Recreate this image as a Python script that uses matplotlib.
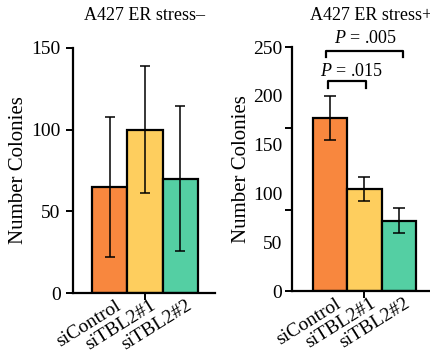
import matplotlib
matplotlib.use('Agg')
import matplotlib.pyplot as plt
import matplotlib.transforms as mtransforms

plt.rcParams['font.family'] = ['Liberation Serif', 'DejaVu Serif']
plt.rcParams['mathtext.fontset'] = 'custom'
plt.rcParams['mathtext.rm'] = 'Liberation Serif'
plt.rcParams['mathtext.it'] = 'Liberation Serif:italic'

grupos = ['siControl', 'siTBL2#1', 'siTBL2#2']
colores = ['#F8873E', '#FECE5E', '#54CFA3']

# ER stress -
media_menos = [65, 100, 70]
sd_menos = [43, 39, 44.5]

# ER stress +
media_mas = [177, 104.5, 72]
sd_mas = [22.5, 12, 13]

fig = plt.figure(figsize=(4.31, 3.55), dpi=100)
ax1 = fig.add_axes([73/431, 1-293/355, (215-73)/431, (293-48)/355])
ax2 = fig.add_axes([292/431, 1-291/355, (436-292)/431, (291-47)/355])


def dibujar(ax, medias, sds, ylim, capsize, yticks_mayores, yticks_label, xlim):
    x = range(len(grupos))
    ax.xaxis.remove_overlapping_locs = False
    ax.yaxis.remove_overlapping_locs = False
    ax.bar(x, medias, width=1.0, color=colores, edgecolor='black', linewidth=1.6, zorder=2)
    ax.errorbar(x, medias, yerr=sds, fmt='none', ecolor='black', elinewidth=1.1,
                capsize=capsize, capthick=1.1, zorder=3)
    ax.set_xlim(*xlim)
    ax.set_ylim(*ylim)
    for lado in ['top', 'right']:
        ax.spines[lado].set_visible(False)
    ax.spines['left'].set_linewidth(1.6)
    ax.spines['bottom'].set_linewidth(1.6)
    # ticks: los mayores solo marcan, los menores llevan texto
    ax.set_yticks(yticks_mayores)
    ax.set_yticklabels([''] * len(yticks_mayores))
    ax.set_yticks(yticks_label, minor=True)
    ax.set_yticklabels([str(v) for v in yticks_label], minor=True, fontsize=14)
    ax.tick_params(axis='y', which='major', length=5, width=1.4, direction='out')
    ax.tick_params(axis='y', which='minor', length=0, pad=7)
    ax.set_xticks([1])
    ax.set_xticklabels([''])
    ax.set_xticks(list(x), minor=True)
    ax.set_xticklabels(grupos, minor=True, fontsize=14)
    ax.tick_params(axis='x', which='major', length=5, width=1.4)
    ax.tick_params(axis='x', which='minor', length=0, pad=3)
    offset = mtransforms.ScaledTranslation(5/100, 0, fig.dpi_scale_trans)
    for lab in ax.get_xticklabels(minor=True):
        lab.set_rotation(32)
        lab.set_ha('right')
        lab.set_va('top')
        lab.set_rotation_mode('anchor')
        lab.set_transform(lab.get_transform() + offset)
    ax.set_ylabel('Number Colonies', fontsize=15)


dibujar(ax1, media_menos, sd_menos, (0, 150), 3.5, [0, 50, 100, 150], [0, 50, 100, 150], (-1.04, 2.98))
dibujar(ax2, media_mas, sd_mas, (0, 250), 4, [0, 250/3, 500/3, 250], [0, 50, 100, 150, 200, 250], (-1.112, 3.086))
ax1.tick_params(axis='y', which='minor', pad=9)
ax1.yaxis.set_label_coords(-0.32, 0.5)
ax2.yaxis.set_label_coords(-0.285, 0.5)

fig.text(145/431, 1-15/355, 'A427 ER stress\u2013', ha='center', va='center', fontsize=13)
fig.text(310/431, 1-15/355, 'A427 ER stress+', ha='left', va='center', fontsize=13)

# corchetes de significancia
ax2.plot([-0.12, -0.12, 2.12, 2.12], [240, 246, 246, 240], color='black', lw=1.6, clip_on=False)
ax2.plot([-0.05, -0.05, 1.05, 1.05], [208, 215, 215, 208], color='black', lw=1.6, clip_on=False)
ax2.text(1.045, 254, '$P$ = .005', ha='center', va='baseline', fontsize=13, clip_on=False)
ax2.text(0.637, 220, '$P$ = .015', ha='center', va='baseline', fontsize=13, clip_on=False)

plt.savefig('out.png', dpi=100)
plt.close()
